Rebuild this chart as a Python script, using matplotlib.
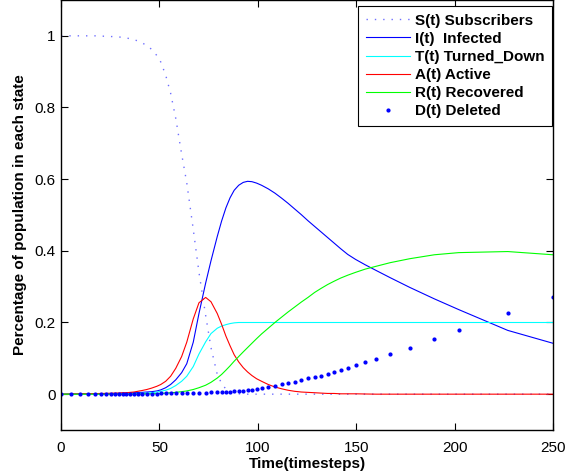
import matplotlib
matplotlib.use('Agg')
import matplotlib.pyplot as plt

plt.rcParams['font.family'] = ['Liberation Sans', 'DejaVu Sans']

# solver output times
t = [0, 5.1, 9.7, 13.7, 17.3, 20.3, 23, 25.4, 27.4, 29.5,
     31.3, 33.2, 35.1, 37.1, 39, 41, 43.6, 46.1, 48.7, 50.7,
     53.2, 55.7, 58.3, 61.3, 63.9, 67.2, 70.1, 73.5, 76.2, 79.4,
     81.6, 83.8, 85.9, 88, 90.3, 92.6, 94.8, 97, 99.4, 101.9,
     105.3, 108.7, 112.1, 115.3, 118.7, 122.1, 125.5, 128.9, 132.1, 135.5,
     138.7, 142.1, 145.7, 149.7, 154.6, 160.2, 167.3, 177.2, 189.7, 202.1,
     227, 250]

S = [1, 1, 1, 1, 1, 0.999, 0.999, 0.998, 0.998, 0.997,
     0.995, 0.994, 0.992, 0.989, 0.986, 0.981, 0.973, 0.962, 0.945, 0.927,
     0.89, 0.84, 0.77, 0.67, 0.59, 0.46, 0.34, 0.22, 0.13, 0.055,
     0.03, 0.014, 0.006, 0.002, 0.001, 0, 0, 0, 0, 0,
     0, 0, 0, 0, 0, 0, 0, 0, 0, 0,
     0, 0, 0, 0, 0, 0, 0, 0, 0, 0,
     0, 0]

I = [0, 0.0005, 0.001, 0.001, 0.0015, 0.0015, 0.002, 0.002, 0.002, 0.0025,
     0.003, 0.003, 0.0035, 0.004, 0.0045, 0.005, 0.006, 0.007, 0.009, 0.012,
     0.018, 0.027, 0.04, 0.06, 0.085, 0.145, 0.225, 0.31, 0.372, 0.44,
     0.483, 0.52, 0.548, 0.569, 0.583, 0.591, 0.594, 0.593, 0.589, 0.583,
     0.573, 0.561, 0.547, 0.533, 0.517, 0.501, 0.484, 0.468, 0.453, 0.437,
     0.422, 0.406, 0.39, 0.376, 0.361, 0.345, 0.325, 0.298, 0.266, 0.236,
     0.178, 0.142]

T = [0, 0, 0, 0, 0, 0, 0.0005, 0.0005, 0.001, 0.001,
     0.001, 0.0015, 0.0015, 0.002, 0.002, 0.0025, 0.003, 0.004, 0.006, 0.008,
     0.011, 0.016, 0.024, 0.036, 0.05, 0.077, 0.112, 0.146, 0.169, 0.184,
     0.19, 0.194, 0.197, 0.199, 0.2, 0.2, 0.2, 0.2, 0.2, 0.2,
     0.2, 0.2, 0.2, 0.2, 0.2, 0.2, 0.2, 0.2, 0.2, 0.2,
     0.2, 0.2, 0.2, 0.2, 0.2, 0.2, 0.2, 0.2, 0.2, 0.2,
     0.2, 0.2]

A = [0, 0.0005, 0.001, 0.001, 0.0015, 0.002, 0.002, 0.0025, 0.003, 0.003,
     0.004, 0.004, 0.005, 0.006, 0.008, 0.01, 0.013, 0.017, 0.022, 0.027,
     0.036, 0.05, 0.072, 0.105, 0.145, 0.21, 0.255, 0.27, 0.258, 0.225,
     0.195, 0.162, 0.135, 0.11, 0.09, 0.074, 0.062, 0.052, 0.043, 0.036,
     0.027, 0.02, 0.015, 0.011, 0.008, 0.006, 0.005, 0.004, 0.003, 0.002,
     0.002, 0.001, 0.001, 0.001, 0.0005, 0, 0, 0, 0, 0,
     0, 0]

R = [0, 0, 0, 0, 0, 0, 0, 0, 0, 0,
     0, 0, 0, 0, 0, 0.0005, 0.001, 0.001, 0.0015, 0.002,
     0.003, 0.004, 0.005, 0.007, 0.009, 0.013, 0.018, 0.025, 0.033, 0.045,
     0.055, 0.067, 0.079, 0.092, 0.105, 0.118, 0.13, 0.142, 0.155, 0.168,
     0.184, 0.2, 0.215, 0.229, 0.243, 0.257, 0.27, 0.284, 0.295, 0.306,
     0.315, 0.324, 0.332, 0.34, 0.349, 0.357, 0.367, 0.378, 0.389, 0.395,
     0.398, 0.389]

D = [0, 0, 0, 0, 0, 0, 0, 0, 0, 0,
     0, 0, 0, 0.0005, 0.0005, 0.001, 0.001, 0.001, 0.0015, 0.002,
     0.002, 0.002, 0.0025, 0.003, 0.003, 0.0035, 0.004, 0.0045, 0.005, 0.0055,
     0.006, 0.0065, 0.007, 0.008, 0.009, 0.01, 0.011, 0.0125, 0.014, 0.016,
     0.02, 0.023, 0.027, 0.031, 0.035, 0.039, 0.044, 0.047, 0.052, 0.057,
     0.062, 0.067, 0.073, 0.08, 0.089, 0.098, 0.111, 0.13, 0.154, 0.178,
     0.227, 0.272]

labels = ['S(t) Subscribers', 'I(t)  Infected', 'T(t) Turned_Down',
          'A(t) Active', 'R(t) Recovered', 'D(t) Deleted']

fig = plt.figure(figsize=(5.8, 4.73), dpi=100)
ax = fig.add_axes([61 / 580, 43 / 473, 492 / 580, 430 / 473])

lw = 0.8
ax.plot(t, S, color='#6f6fff', linestyle=(0, (1, 5)), lw=1.0, label=labels[0])
ax.plot(t, I, color='#0000ff', lw=lw, label=labels[1])
ax.plot(t, T, color='#00ffff', lw=lw, label=labels[2])
ax.plot(t, A, color='#ff0000', lw=lw, label=labels[3])
ax.plot(t, R, color='#00ff00', lw=lw, label=labels[4])
ax.plot(t, D, color='#0000ff', linestyle='none', marker='.', markersize=4,
        label=labels[5])

ax.set_xlim(0, 250)
ax.set_ylim(-0.1, 1.1)
ax.set_xticks([0, 50, 100, 150, 200, 250])
ax.set_yticks([0, 0.2, 0.4, 0.6, 0.8, 1])
ax.set_yticklabels(['0', '0.2', '0.4', '0.6', '0.8', '1'])
ax.tick_params(direction='in', length=5, width=0.8, top=True, right=True,
               labelsize=11)
ax.tick_params(axis='x', pad=8)
ax.tick_params(axis='y', pad=4)
for sp in ax.spines.values():
    sp.set_linewidth(1.0)

ax.set_xlabel('Time(timesteps)', fontsize=11, fontweight='bold', labelpad=1)
ax.set_ylabel('Percentage of population in each state', fontsize=11,
              fontweight='bold', labelpad=5)

leg = ax.legend(loc='upper right', bbox_to_anchor=(0.998, 0.986),
                borderaxespad=0, fancybox=False, framealpha=1,
                edgecolor='black', numpoints=1, handlelength=2.9,
                handletextpad=0.3, labelspacing=0.27, borderpad=0.5,
                prop={'size': 11, 'weight': 'bold'})
leg.get_frame().set_linewidth(0.8)

fig.savefig('out.png', dpi=100)
